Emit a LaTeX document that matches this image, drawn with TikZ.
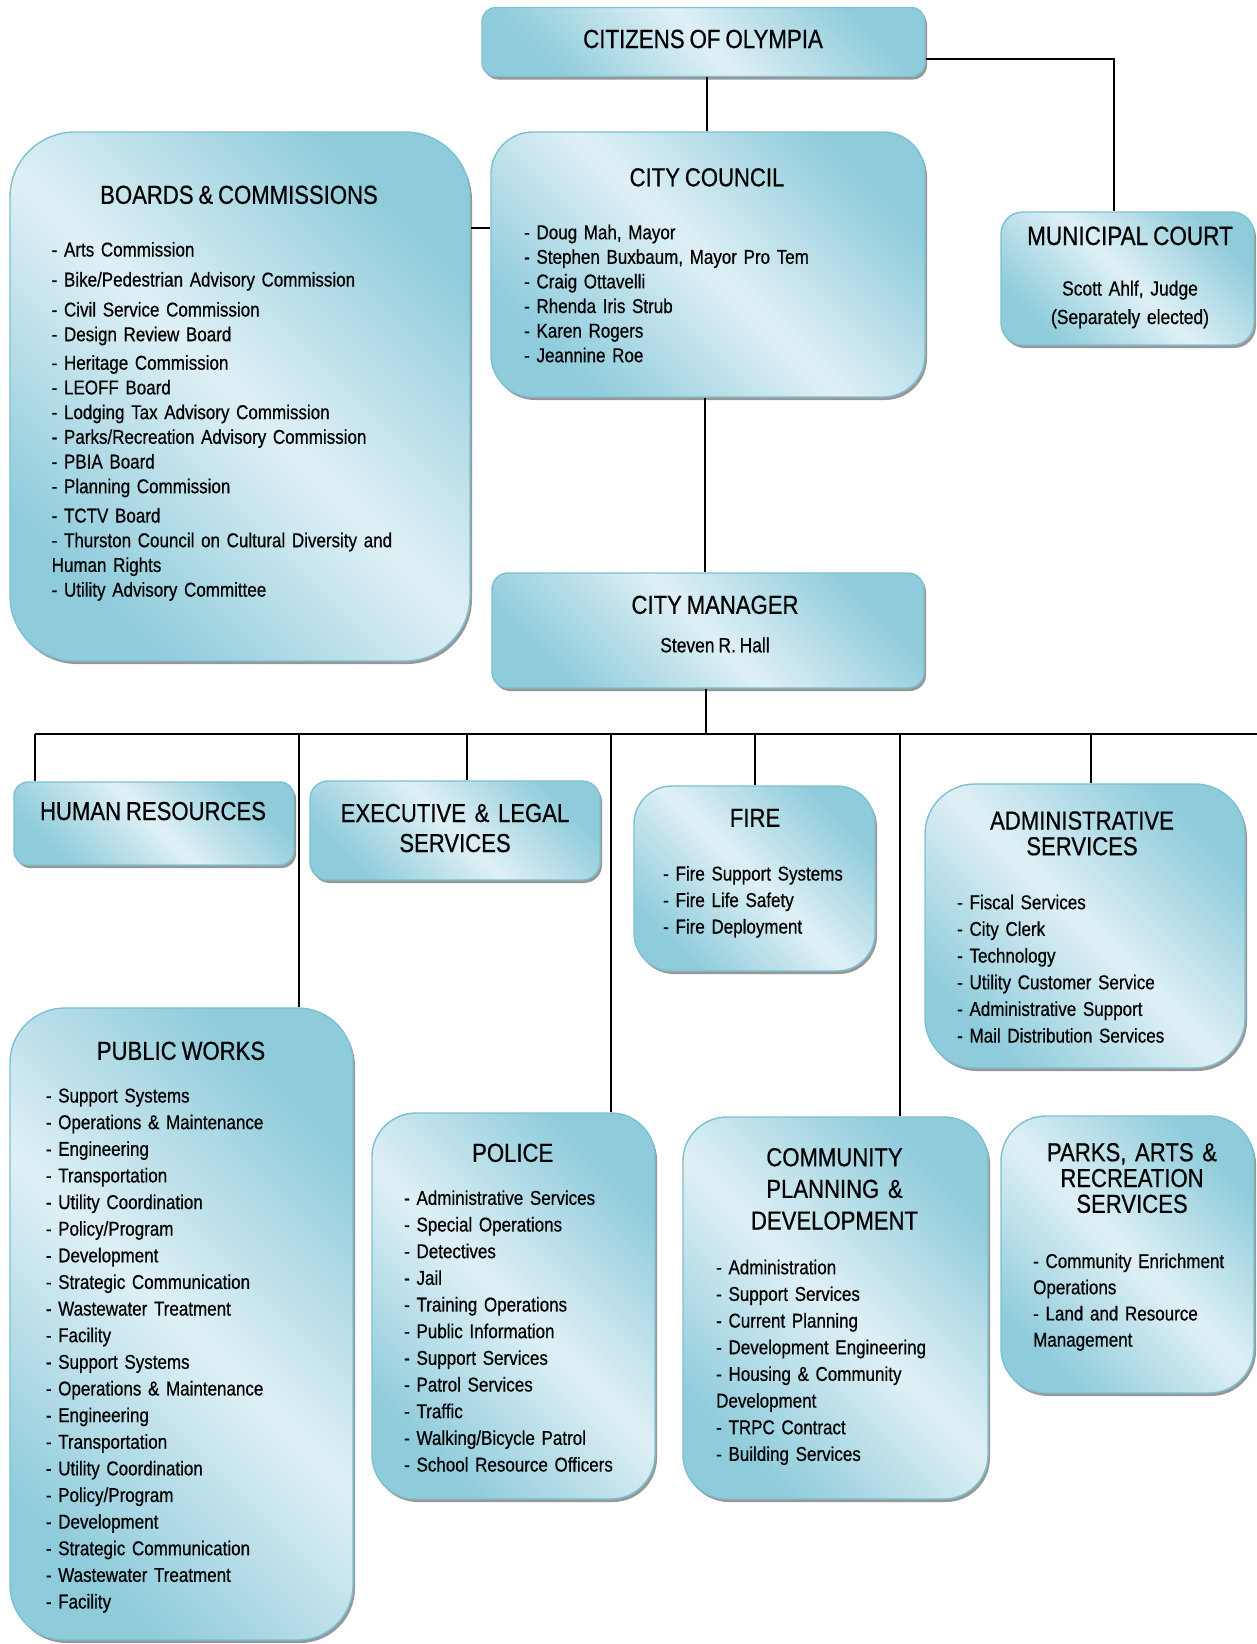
\documentclass[tikz,border=0pt]{standalone}
\usepackage{fontspec}
\setmainfont{Liberation Sans}[FakeStretch=0.85, WordSpace=0.8, FakeBold=0.6]
\usetikzlibrary{shadows}
\definecolor{boxdark}{RGB}{142,203,219}
\definecolor{boxlight}{RGB}{223,240,245}
\definecolor{boxedge}{RGB}{125,192,210}
\newcommand\mystrutA{\rule{0pt}{17pt}}
\newcommand\mystrutB{\rule{0pt}{20pt}}
\tikzset{
  box/.style={draw=boxedge, line width=1.4pt, top color=boxdark, bottom color=boxdark, middle color=boxlight, shading angle=-45,
    drop shadow={shadow xshift=2pt, shadow yshift=-3pt, fill=black!45, opacity=0.9}, inner sep=0pt},
  conn/.style={line width=1.8pt, draw=black},
  ttl/.style={anchor=base, inner sep=0pt, font=\fontsize{26pt}{30pt}\selectfont},
  mttl/.style={anchor=north, inner sep=0pt, align=center, text width=290pt, font=\fontsize{26pt}{#1pt}\selectfont},
  lst/.style={anchor=north west, inner sep=0pt, align=left, text width=420pt, font=\fontsize{20pt}{#1pt}\selectfont},
}
\begin{document}
\begin{tikzpicture}[x=1pt,y=-1pt]
\fill[white] (0,0) rectangle (1256,1644);
\useasboundingbox (0,0) rectangle (1256,1644);

% ---------- boxes ----------
\node[box, rounded corners=14pt, minimum width=443pt, minimum height=69pt] (citizens) at (703.5,42) {};
\node[box, rounded corners=42pt, minimum width=434pt, minimum height=265pt] (council) at (708,264.5) {};
\node[box, rounded corners=65pt, minimum width=460pt, minimum height=529pt] (boards) at (240,396.5) {};
\node[box, rounded corners=22pt, minimum width=253pt, minimum height=133pt] (court) at (1127.5,278.5) {};
\node[box, rounded corners=16pt, minimum width=432pt, minimum height=115pt] (manager) at (708,630.5) {};
\node[box, rounded corners=14pt, minimum width=280pt, minimum height=83pt] (hr) at (154,823.5) {};
\node[box, rounded corners=18pt, minimum width=290pt, minimum height=99pt] (exec) at (455,830.5) {};
\node[box, rounded corners=38pt, minimum width=241pt, minimum height=185pt] (fire) at (754.5,878.5) {};
\node[box, rounded corners=50pt, minimum width=320pt, minimum height=284pt] (admin) at (1085,926) {};
\node[box, rounded corners=55pt, minimum width=343pt, minimum height=632pt] (pw) at (181.5,1324) {};
\node[box, rounded corners=44pt, minimum width=283pt, minimum height=386pt] (police) at (513.5,1306) {};
\node[box, rounded corners=44pt, minimum width=305pt, minimum height=382pt] (community) at (835.5,1308) {};
\node[box, rounded corners=45pt, minimum width=253pt, minimum height=277pt] (parks) at (1127.5,1254.5) {};

% ---------- connectors ----------
\coordinate (bcy) at (0,228);
\coordinate (busL) at (35,734);
\coordinate (busR) at (1260,734);
\coordinate (dPW) at (299,734);
\coordinate (dExec) at (467,734);
\coordinate (dPolice) at (611,734);
\coordinate (dFire) at (755,734);
\coordinate (dComm) at (900,734);
\coordinate (dAdmin) at (1091,734);
\coordinate (dMgr) at (706,734);

\draw[conn] ([xshift=-1pt]council.north) -- ([xshift=-1pt]council.north |- citizens.south);
\draw[conn] ([yshift=-17pt]citizens.east) -| ([xshift=-13.5pt]court.north);
\draw[conn] (boards.east |- bcy) -- (council.west |- bcy);
\draw[conn] ([xshift=-3pt]council.south) -- ([xshift=-3pt]council.south |- manager.north);
\draw[conn] (dMgr |- manager.south) -- (dMgr);
\draw[conn] (busL) -- (busR);
\draw[conn] (busL) -- (busL |- hr.north);
\draw[conn] (dPW) -- (dPW |- pw.north);
\draw[conn] (dExec) -- (dExec |- exec.north);
\draw[conn] (dPolice) -- (dPolice |- police.north);
\draw[conn] (dFire) -- (dFire |- fire.north);
\draw[conn] (dComm) -- (dComm |- community.north);
\draw[conn] (dAdmin) -- (dAdmin |- admin.north);

% ---------- texts ----------
\node[anchor=base, inner sep=0pt, font=\fontsize{26.2pt}{30pt}\selectfont] (tCit) at (703,48) {CITIZENS OF OLYMPIA};

\node[ttl] (tBoards) at (239,203.8) {BOARDS \& COMMISSIONS};
\node[lst=24.7] (lBoards) at (51.5,239.3) {\mystrutA- Arts Commission\\[5.3pt]
- Bike/Pedestrian Advisory Commission\\[5.3pt]
- Civil Service Commission\\
- Design Review Board\\[3.8pt]
- Heritage Commission\\
- LEOFF Board\\
- Lodging Tax Advisory Commission\\
- Parks/Recreation Advisory Commission\\
- PBIA Board\\
- Planning Commission\\[4.6pt]
- TCTV Board\\
- Thurston Council on Cultural Diversity and\\
Human Rights\\
- Utility Advisory Committee};

\node[ttl] (tCouncil) at (707,186.3) {CITY COUNCIL};
\node[lst=24.6] (lCouncil) at (524,222) {\mystrutA- Doug Mah, Mayor\\
- Stephen Buxbaum, Mayor Pro Tem\\
- Craig Ottavelli\\
- Rhenda Iris Strub\\
- Karen Rogers\\
- Jeannine Roe};

\node[anchor=base, inner sep=0pt, font=\fontsize{26.5pt}{30pt}\selectfont] (tCourt) at (1130,245) {MUNICIPAL COURT};
\node[anchor=north, inner sep=0pt, align=center, text width=250pt, font=\fontsize{20.5pt}{28.5pt}\selectfont] (lCourt) at (1130,278.3) {\mystrutA Scott Ahlf, Judge\\(Separately elected)};

\node[ttl] (tManager) at (715,613.8) {CITY MANAGER};
\node[anchor=base, inner sep=0pt, font=\fontsize{20.5pt}{24pt}\selectfont] (lManager) at (715,652.3) {Steven R. Hall};

\node[ttl] (tHR) at (153,820) {HUMAN RESOURCES};
\node[mttl=30] (tExec) at (455,801.8) {\mystrutB EXECUTIVE \& LEGAL\\SERVICES};

\node[ttl] (tFire) at (755,826.8) {FIRE};
\node[lst=26.5] (lFire) at (663,863.3) {\mystrutA- Fire Support Systems\\
- Fire Life Safety\\
- Fire Deployment};

\node[mttl=25.7] (tAdmin) at (1082,809.3) {\mystrutB ADMINISTRATIVE\\SERVICES};
\node[lst=26.67] (lAdmin) at (957,892) {\mystrutA- Fiscal Services\\
- City Clerk\\
- Technology\\
- Utility Customer Service\\
- Administrative Support\\
- Mail Distribution Services};

\node[ttl] (tPW) at (181,1059.8) {PUBLIC WORKS};
\node[lst=26.63] (lPW) at (45.7,1085.3) {\mystrutA- Support Systems\\
- Operations \& Maintenance\\
- Engineering\\
- Transportation\\
- Utility Coordination\\
- Policy/Program\\
- Development\\
- Strategic Communication\\
- Wastewater Treatment\\
- Facility\\
- Support Systems\\
- Operations \& Maintenance\\
- Engineering\\
- Transportation\\
- Utility Coordination\\
- Policy/Program\\
- Development\\
- Strategic Communication\\
- Wastewater Treatment\\
- Facility};

\node[ttl] (tPolice) at (512.7,1161.8) {POLICE};
\node[lst=26.67] (lPolice) at (404,1187.6) {\mystrutA- Administrative Services\\
- Special Operations\\
- Detectives\\
- Jail\\
- Training Operations\\
- Public Information\\
- Support Services\\
- Patrol Services\\
- Traffic\\
- Walking/Bicycle Patrol\\
- School Resource Officers};

\node[mttl=31.65] (tComm) at (834.5,1146) {\mystrutB COMMUNITY\\PLANNING \&\\DEVELOPMENT};
\node[lst=26.67] (lComm) at (716,1257) {\mystrutA- Administration\\
- Support Services\\
- Current Planning\\
- Development Engineering\\
- Housing \& Community\\
Development\\
- TRPC Contract\\
- Building Services};

\node[mttl=25.8] (tParks) at (1132,1141) {\mystrutB PARKS, ARTS \&\\RECREATION\\SERVICES};
\node[lst=26.2] (lParks) at (1033,1250.8) {\mystrutA- Community Enrichment\\
Operations\\
- Land and Resource\\
Management};
\end{tikzpicture}
\end{document}
